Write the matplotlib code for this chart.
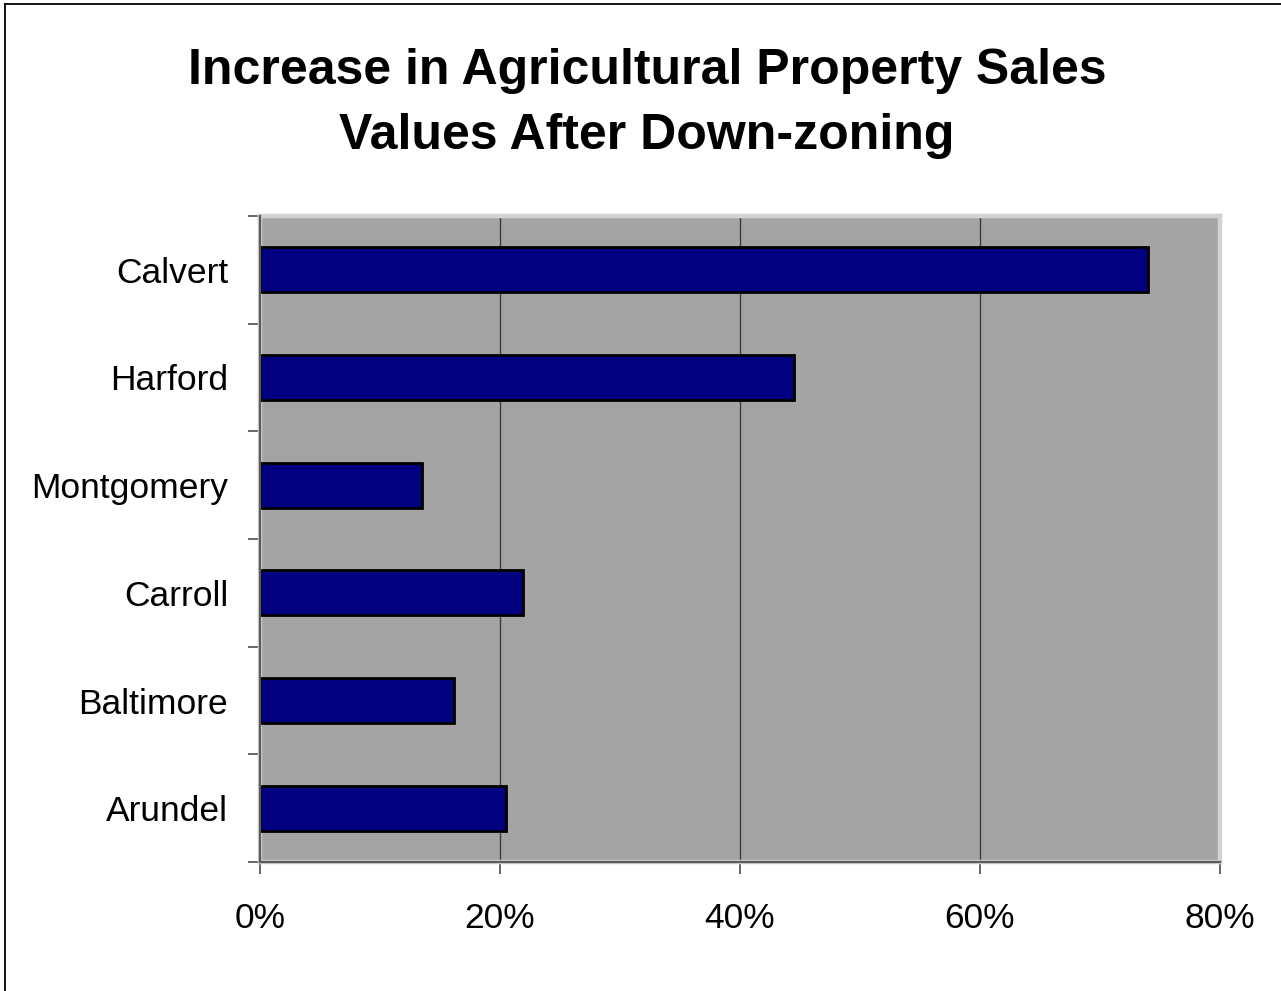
import matplotlib
matplotlib.use("Agg")
import matplotlib.pyplot as plt
from matplotlib.lines import Line2D
from matplotlib.ticker import FixedLocator, PercentFormatter

plt.rcParams['font.family'] = ['Liberation Sans', 'DejaVu Sans']

counties = ["Calvert", "Harford", "Montgomery", "Carroll", "Baltimore", "Arundel"]
increase_pct = [74.0, 44.5, 13.5, 21.9, 16.2, 20.5]
x_ticks = [0, 20, 40, 60, 80]
title_lines = ["Increase in Agricultural Property Sales", "Values After Down-zoning"]

W, H = 1281, 991
fig = plt.figure(figsize=(W / 100, H / 100), dpi=100)
fig.patch.set_facecolor("white")

# outer chart frame (left and top edges visible)
fig.add_artist(Line2D([5 / W, 5 / W], [0, 1 - 4 / H], transform=fig.transFigure,
                      color="black", lw=1.3))
fig.add_artist(Line2D([5 / W, 1], [1 - 4 / H, 1 - 4 / H], transform=fig.transFigure,
                      color="black", lw=1.3))

left, right, top, bottom = 260, 1220, 216, 862
ax = fig.add_axes([left / W, 1 - bottom / H, (right - left) / W, (bottom - top) / H])
ax.set_facecolor("#a4a4a4")

n = len(counties)
ypos = list(range(n - 1, -1, -1))
ax.barh(ypos, increase_pct, height=0.42, color="#000080", edgecolor="black",
        linewidth=2, zorder=3)

ax.set_xlim(0, 80)
ax.set_ylim(-0.5, n - 0.5)

# gridlines
for v in x_ticks[1:-1]:
    ax.axvline(v, color="#3c3c3c", lw=1.0, zorder=1)

# light border around the plot area
for s in ax.spines.values():
    s.set_color("#d2d2d2")
    s.set_linewidth(3.2)
    s.set_zorder(2)

# dark axis lines
ax.axvline(0, color="#5a5a5a", lw=1.6, zorder=4, clip_on=False)
ax.axhline(-0.5, color="#5a5a5a", lw=1.6, zorder=4, clip_on=False)

ax.xaxis.set_major_locator(FixedLocator(x_ticks))
ax.xaxis.set_major_formatter(PercentFormatter(decimals=0))
ax.tick_params(axis="x", which="major", direction="out", length=8.5, width=1.3,
               color="#5a5a5a", labelsize=25.5, pad=20, labelcolor="black")

ax.yaxis.set_major_locator(FixedLocator([i - 0.5 for i in range(n + 1)]))
ax.yaxis.set_minor_locator(FixedLocator(ypos))
ax.set_yticklabels([], minor=False)
ax.set_yticklabels(counties, minor=True)
ax.tick_params(axis="y", which="major", direction="out", length=8.5, width=1.3,
               color="#5a5a5a")
ax.tick_params(axis="y", which="minor", length=0, labelsize=25.5, pad=23,
               labelcolor="black")

for i, line in enumerate(title_lines):
    fig.text(647 / W, 1 - (84 + 65 * i) / H, line, ha="center", va="baseline",
             fontsize=36, fontweight="bold", color="black")

fig.savefig("out.png", dpi=100)
